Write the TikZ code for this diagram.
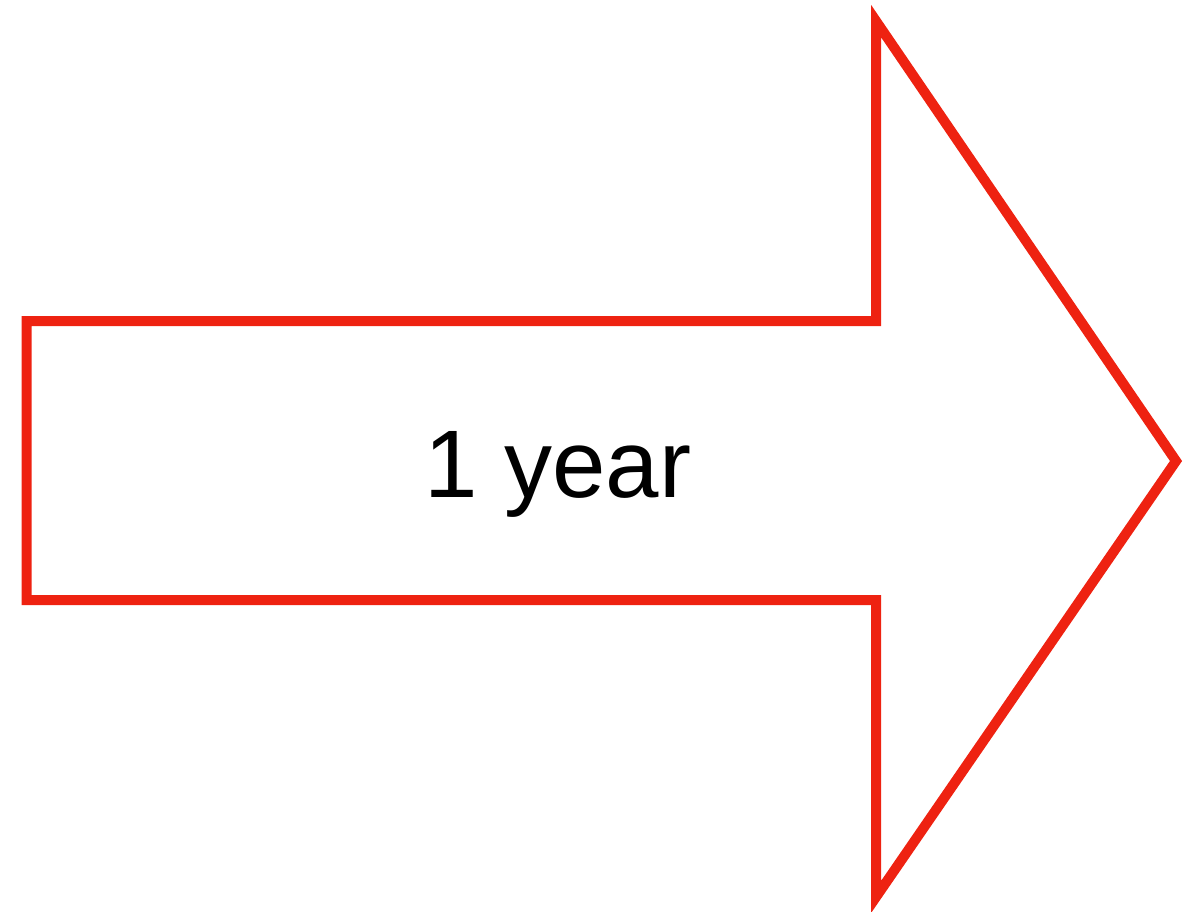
\documentclass[tikz,border=0pt]{standalone}
\usepackage{fontspec}
\setmainfont{Liberation Sans}
\definecolor{arrowred}{RGB}{238,34,17}

\begin{document}
\begin{tikzpicture}[x=1pt, y=-1pt,
    arrowline/.style={draw=arrowred, line width=10pt, miter limit=10},
    label/.style={font=\fontsize{96}{110}\selectfont, inner sep=0pt, anchor=base}]
    \useasboundingbox (0,0) rectangle (1198,911);
    \coordinate (shaft top) at (26.5,321);
    \coordinate (shaft bottom) at (26.5,600);
    \coordinate (head top) at (876,21);
    \coordinate (head tip) at (1176,461);
    \coordinate (head bottom) at (876,897);
    \draw [arrowline] (shaft top) -- (shaft top -| head top) -- (head top) -- (head tip)
      -- (head bottom) -- (shaft bottom -| head bottom) -- (shaft bottom) -- cycle;
    \node [label] (period) at (558,497) {1 year};
  \end{tikzpicture}
\end{document}
